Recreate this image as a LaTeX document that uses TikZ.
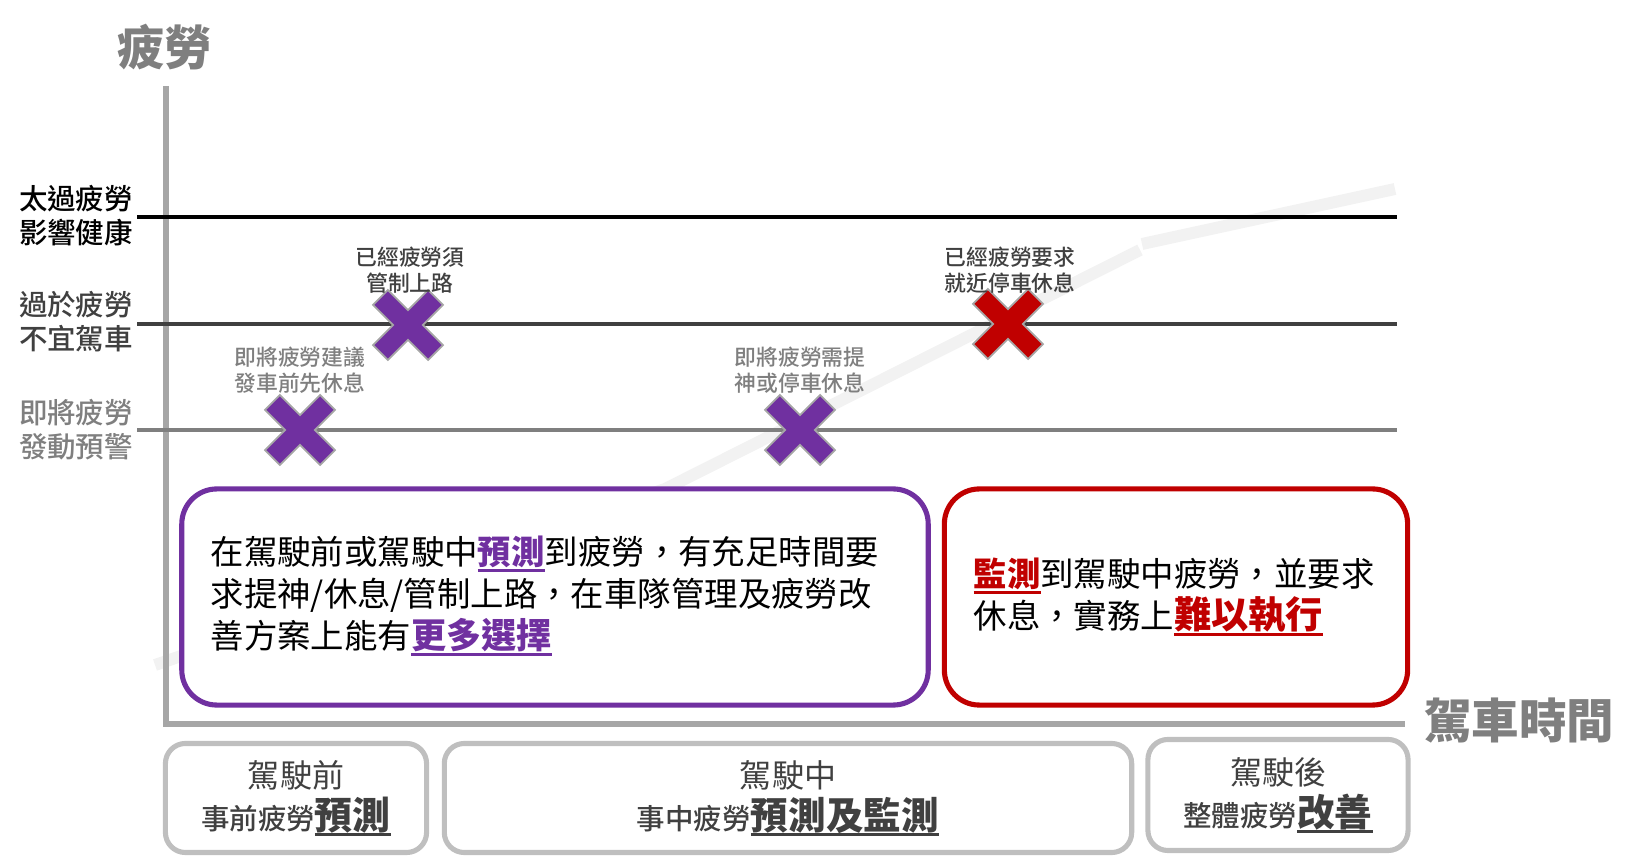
\documentclass[tikz,border=0pt]{standalone}
\usepackage{fontspec}
\setmainfont{Noto Sans CJK TC}
\newfontfamily\medfont{Noto Sans CJK TC Medium}
\usepackage{tikz}
\usetikzlibrary{positioning}

\definecolor{purp}{HTML}{7030A0}
\definecolor{redc}{HTML}{C00000}
\definecolor{axisgray}{HTML}{A6A6A6}
\definecolor{boxgray}{HTML}{BFBFBF}
\definecolor{midgray}{HTML}{7F7F7F}
\definecolor{dgray}{HTML}{404040}
\definecolor{trendgray}{HTML}{F2F2F2}

% underlined word: colour, depth of rule, text
\newcommand{\undl}[3]{\setbox0\hbox{#3}\rlap{\color{#1}\rule[#2]{\wd0}{0.85pt}}\box0}
\newcommand{\emp}[1]{\undl{purp}{-0.22em}{\textcolor{purp}{\bfseries #1}}}
\newcommand{\emr}[1]{\undl{redc}{-0.22em}{\textcolor{redc}{\bfseries #1}}}
\newcommand{\emd}[1]{\undl{dgray}{-0.2em}{\bfseries #1}}

\tikzset{
  pics/xmark/.style={code={
    \fill[#1, draw=axisgray, line width=0.5pt, rotate=45]
      (10.5,10.5) -- (10.5,39) -- (-10.5,39) -- (-10.5,10.5) -- (-39,10.5) -- (-39,-10.5)
      -- (-10.5,-10.5) -- (-10.5,-39) -- (10.5,-39) -- (10.5,-10.5) -- (39,-10.5) -- (39,10.5) -- cycle;
  }}
}

\begin{document}
\begin{tikzpicture}[x=0.01cm, y=-0.01cm,
    axisline/.style={axisgray, line width=1.5pt},
    limitline/.style={line width=0.9pt},
    levlab/.style={align=center, inner sep=0pt, font=\fontsize{8.1}{9.7}\selectfont\medfont},
    crosslab/.style={align=center, inner sep=0pt, font=\fontsize{6.2}{7.4}\selectfont\medfont},
    bigtitle/.style={text=midgray, inner sep=0pt, font=\fontsize{13.5}{16}\selectfont\bfseries},
    notebox/.style={draw, line width=1.45pt, rounded corners=0.35cm, fill=white, minimum height=2.16cm},
    notetext/.style={align=left, inner sep=0pt, anchor=west, font=\fontsize{9.5}{11.9}\selectfont},
    phasebox/.style={draw=boxgray, line width=1.45pt, rounded corners=0.2cm, align=center, text=dgray,
      font=\fontsize{9.1}{12}\selectfont, minimum height=1.09cm},
  ]
  \useasboundingbox (0,0) rectangle (1650,864);

  % trend of fatigue
  \draw[trendgray, line width=3.4pt] (155,665) -- (665,489) -- (1140,250);
  \draw[trendgray, line width=3.4pt] (1142,244) -- (1395,189);

  % axes
  \coordinate (Origin) at (166,724);
  \coordinate (YTop) at (166,86);
  \coordinate (XEnd) at (1405,724);
  \draw[axisline] (YTop) -- (Origin) -- (XEnd);
  \node (YTitle) [bigtitle] at (165,47) {疲勞};
  \node (XTitle) [bigtitle] at (1519,721) {駕車時間};

  % fatigue levels
  \draw[limitline, line width=1.1pt, black] (137,217) -- (1397,217);
  \draw[limitline, dgray] (137,324) -- (1397,324);
  \draw[limitline, midgray] (137,430) -- (1397,430);
  \node (LevHigh) [levlab, text=black] at (76,216) {太過疲勞\\影響健康};
  \node (LevMid) [levlab, text=dgray] at (76,322) {過於疲勞\\不宜駕車};
  \node (LevLow) [levlab, text=midgray] at (76,430) {即將疲勞\\發動預警};

  % warnings
  \pic (X1) at (300,430) {xmark=purp};
  \pic (X2) at (408,325) {xmark=purp};
  \pic (X3) at (800,430) {xmark=purp};
  \pic (X4) at (1008,324) {xmark=redc};
  \node (X1Lab) [crosslab, text=midgray] at (300,370) {即將疲勞建議\\發車前先休息};
  \node (X2Lab) [crosslab, text=dgray] at (410,270) {已經疲勞須\\管制上路};
  \node (X3Lab) [crosslab, text=midgray] at (800,370) {即將疲勞需提\\神或停車休息};
  \node (X4Lab) [crosslab, text=dgray] at (1010,270) {已經疲勞要求\\就近停車休息};

  % notes
  \node (PredBox) [notebox, draw=purp, minimum width=7.46cm] at (555,597) {};
  \node (PredText) [notetext] at (210,596) {在駕駛前或駕駛中\emp{預測}到疲勞，有充足時間要\\求提神/休息/管制上路，在車隊管理及疲勞改\\善方案上能有\emp{\fontsize{10}{11.9}\selectfont 更多選擇}};
  \node (MonBox) [notebox, draw=redc, minimum width=4.63cm] at (1176,597) {};
  \node (MonText) [notetext] at (973,597) {\emr{監測}到駕駛中疲勞，並要求\\休息，實務上\emr{\fontsize{10.6}{11.9}\selectfont 難以執行}};

  % phases
  \node (Before) [phasebox, minimum width=2.61cm] at (296,798) {駕駛前\\{\medfont\fontsize{8.1}{12}\selectfont 事前疲勞}\emd{\fontsize{10.8}{12}\selectfont 預測}};
  \node (During) [phasebox, minimum width=6.87cm] at (788,798) {駕駛中\\{\medfont\fontsize{8.1}{12}\selectfont 事中疲勞}\emd{\fontsize{10.7}{12}\selectfont 預測及監測}};
  \node (After) [phasebox, minimum width=2.60cm, minimum height=1.11cm] at (1278,795) {駕駛後\\{\medfont\fontsize{8.1}{12}\selectfont 整體疲勞}\emd{\fontsize{10.7}{12}\selectfont 改善}};
\end{tikzpicture}
\end{document}
